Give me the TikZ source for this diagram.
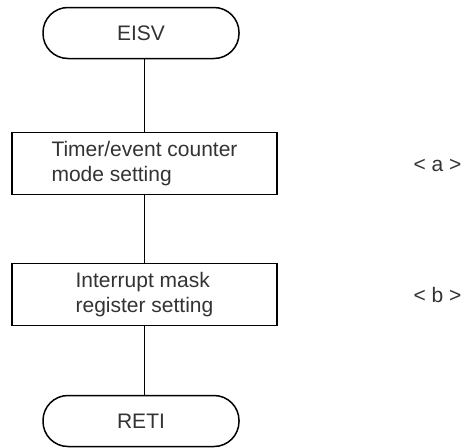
\documentclass[tikz,border=0pt]{standalone}
\usepackage{fontspec}
\setmainfont{Liberation Sans}
\begin{document}
\begin{tikzpicture}[x=1pt,y=-1pt,
  txt/.style={text=black!80,font=\fontsize{21}{25}\selectfont},
  term/.style={txt,draw=black,line width=1.5pt,rectangle,rounded corners=25pt,
    minimum width=196pt,minimum height=51pt,inner sep=0pt},
  procbox/.style={txt,draw=black,line width=1.9pt,rectangle,align=left,
    minimum width=265pt,minimum height=62pt,inner sep=0pt},
  conn/.style={draw=black,line width=1pt},
  note/.style={txt,anchor=base,inner sep=0pt}]
\useasboundingbox (0,0) rectangle (468,447);
\node[term] (e) at (141,33) {EISV};
\node[procbox] (b1) at (144.5,163.5) {Timer/event counter\\mode setting};
\node[procbox] (b2) at (144.5,294.5) {Interrupt mask\\register setting};
\node[term] (r) at (141,421) {RETI};
\node[note] (la) at (437.5,171) {< a >};
\node[note] (lb) at (437.5,302) {< b >};
\draw[conn] (b1.north -| 144,0) -- (e.south -| 144,0);
\draw[conn] (b1.south -| 144,0) -- (b2.north -| 144,0);
\draw[conn] (b2.south -| 144,0) -- (r.north -| 144,0);
\end{tikzpicture}
\end{document}
